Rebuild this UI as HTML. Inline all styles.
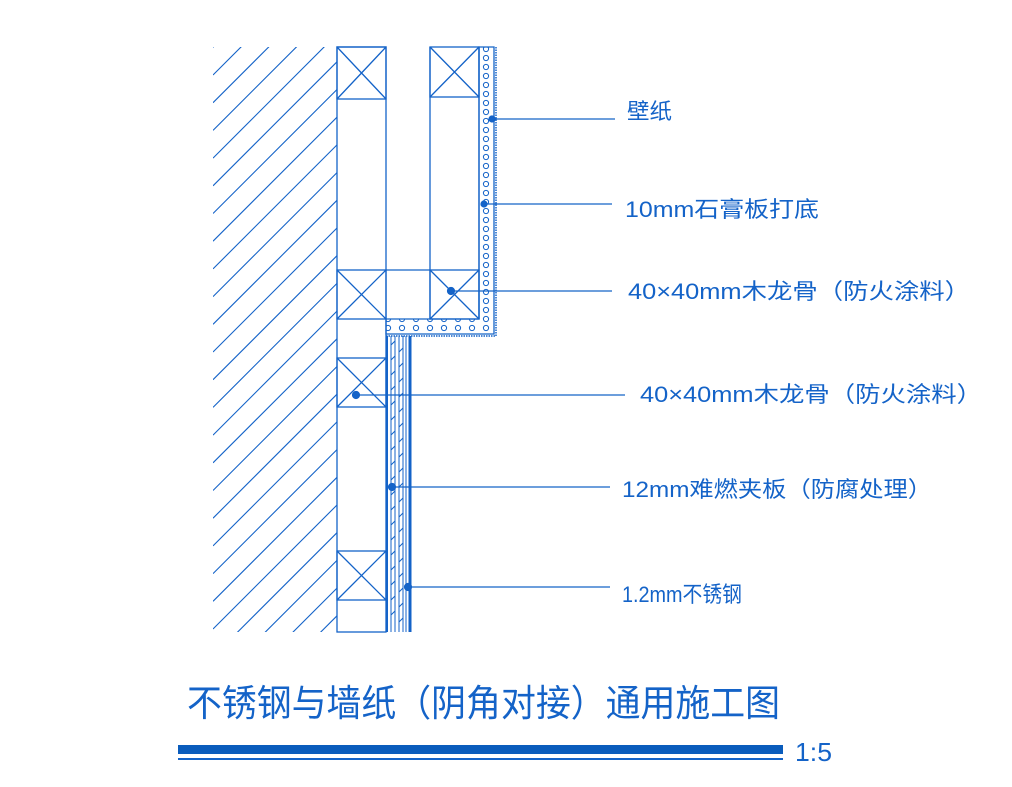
<!DOCTYPE html>
<html><head><meta charset="utf-8"><style>
html,body{margin:0;padding:0;background:#fff;width:1012px;height:787px;overflow:hidden}
svg{display:block}
text{font-family:"Liberation Sans","Noto Sans CJK SC",sans-serif;fill:#1463c8}
</style></head><body>
<svg width="1012" height="787" viewBox="0 0 1012 787" xmlns="http://www.w3.org/2000/svg">
<defs>
<clipPath id="wall"><rect x="213" y="47" width="124" height="585"/></clipPath>
<pattern id="dots" x="480" y="0" width="14" height="9" patternUnits="userSpaceOnUse">
<circle cx="6" cy="4" r="2.6" fill="none" stroke="#1463c8" stroke-width="1"/>
</pattern>
</defs>
<g stroke="#1463c8" stroke-width="1.3" fill="none">
<g clip-path="url(#wall)" stroke-width="1.1">
<path d="
M213,-63.5 l124,-124 M213,-35.8 l124,-124 M213,-8.1 l124,-124 M213,19.6 l124,-124 M213,47.3 l124,-124 M213,75 l124,-124 M213,102.7 l124,-124 M213,130.4 l124,-124 M213,158.1 l124,-124 M213,185.8 l124,-124 M213,213.5 l124,-124 M213,241.2 l124,-124 M213,268.9 l124,-124 M213,296.6 l124,-124 M213,324.3 l124,-124 M213,352 l124,-124 M213,379.7 l124,-124 M213,407.4 l124,-124 M213,435.1 l124,-124 M213,462.8 l124,-124 M213,490.5 l124,-124 M213,518.2 l124,-124 M213,545.9 l124,-124 M213,573.6 l124,-124 M213,601.3 l124,-124 M213,629 l124,-124 M213,656.7 l124,-124 M213,684.4 l124,-124 M213,712.1 l124,-124 M213,739.8 l124,-124"/>
</g>
<rect x="337" y="47" width="49" height="585"/>
<rect x="337" y="47" width="49" height="52"/><path d="M337,47 L386,99 M386,47 L337,99"/>
<rect x="337" y="270" width="49" height="49"/><path d="M337,270 L386,319 M386,270 L337,319"/>
<rect x="337" y="358" width="49" height="49"/><path d="M337,358 L386,407 M386,358 L337,407"/>
<rect x="337" y="551" width="49" height="49"/><path d="M337,551 L386,600 M386,551 L337,600"/>
<path d="M430,47 L430,319 M479,47 L479,319"/>
<rect x="430" y="47" width="49" height="50"/><path d="M430,47 L479,97 M479,47 L430,97"/>
<rect x="430" y="270" width="49" height="49"/><path d="M430,270 L479,319 M479,270 L430,319"/>
<path d="M386,270 L430,270"/>
</g>
<path d="M479,47 L494,47 L494,334 L386,334 L386,319 L479,319 Z" fill="url(#dots)" stroke="#1463c8" stroke-width="1.3"/>
<path d="M496,47 L496,336 L386,336" fill="none" stroke="#1463c8" stroke-width="1.5" stroke-dasharray="1.5,1"/>
<g stroke="#1463c8" fill="none">
<path d="M387,336 L387,632" stroke-width="2"/>
<path d="M391,336 L391,632 M395,336 L395,632 M399,336 L399,632 M403,336 L403,632 M406,336 L406,632" stroke-width="1"/>
<path d="M410,336 L410,632" stroke-width="3"/>
<path d="M391,345 l4,-4 M391,360 l4,-4 M391,375 l4,-4 M391,390 l4,-4 M391,405 l4,-4 M391,420 l4,-4 M391,435 l4,-4 M391,450 l4,-4 M391,465 l4,-4 M391,480 l4,-4 M391,495 l4,-4 M391,510 l4,-4 M391,525 l4,-4 M391,540 l4,-4 M391,555 l4,-4 M391,570 l4,-4 M391,585 l4,-4 M391,600 l4,-4 M391,615 l4,-4
M399,352 l4,-4 M399,367 l4,-4 M399,382 l4,-4 M399,397 l4,-4 M399,412 l4,-4 M399,427 l4,-4 M399,442 l4,-4 M399,457 l4,-4 M399,472 l4,-4 M399,487 l4,-4 M399,502 l4,-4 M399,517 l4,-4 M399,532 l4,-4 M399,547 l4,-4 M399,562 l4,-4 M399,577 l4,-4 M399,592 l4,-4 M399,607 l4,-4 M399,622 l4,-4" stroke-width="1"/>
</g>
<g stroke="#1463c8" stroke-width="1.2" fill="#1463c8">
<path d="M492,119 L615,119 M484,204 L612,204 M451,291 L612,291 M356,395 L625,395 M392,487 L610,487 M408,587 L610,587" fill="none"/>
<circle cx="492" cy="119" r="3"/><circle cx="484" cy="204" r="3"/><circle cx="451" cy="291" r="3.5"/>
<circle cx="356" cy="395" r="3.5"/><circle cx="392" cy="487" r="3.5"/><circle cx="408" cy="587" r="3.5"/>
</g>
<g font-size="22">
<text x="627" y="119" textLength="45" lengthAdjust="spacingAndGlyphs">壁纸</text>
<text x="625" y="217" textLength="194" lengthAdjust="spacingAndGlyphs">10mm石膏板打底</text>
<text x="628" y="299" textLength="342" lengthAdjust="spacingAndGlyphs">40×40mm木龙骨（防火涂料）</text>
<text x="640" y="402" textLength="342" lengthAdjust="spacingAndGlyphs">40×40mm木龙骨（防火涂料）</text>
<text x="622" y="497" textLength="310" lengthAdjust="spacingAndGlyphs">12mm难燃夹板（防腐处理）</text>
<text x="622" y="602" textLength="120" lengthAdjust="spacingAndGlyphs">1.2mm不锈钢</text>
</g>
<text x="187" y="716" font-size="37" textLength="593" lengthAdjust="spacingAndGlyphs">不锈钢与墙纸（阴角对接）通用施工图</text>
<rect x="178" y="745" width="605" height="9" fill="#0a5cbc"/>
<rect x="178" y="758" width="605" height="2" fill="#1463c8"/>
<text x="795" y="761" font-size="26" textLength="37" lengthAdjust="spacingAndGlyphs">1:5</text>
</svg>
</body></html>
